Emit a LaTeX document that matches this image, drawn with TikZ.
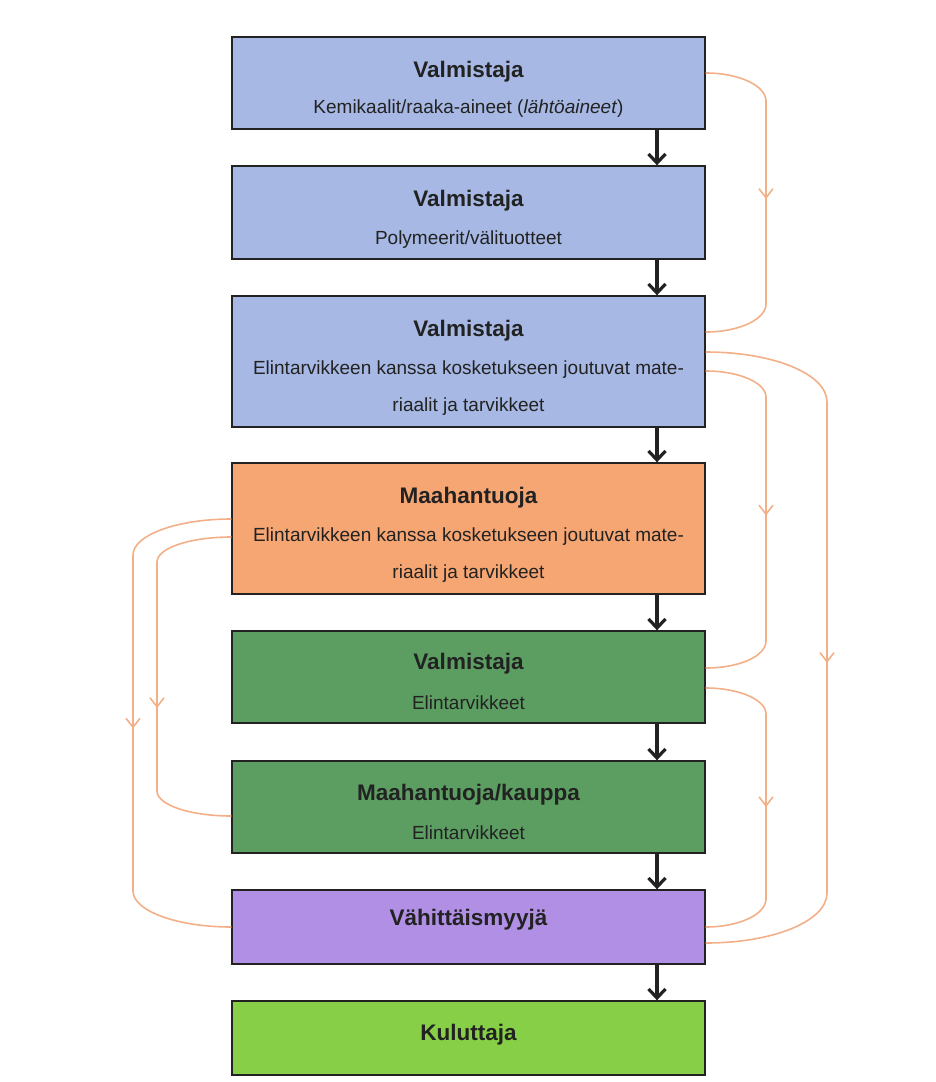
\documentclass[tikz,border=0pt]{standalone}
\usepackage{fontspec}
\setmainfont{Liberation Sans}
\usetikzlibrary{arrows.meta,decorations.markings}
\definecolor{valmblue}{RGB}{166,184,227}
\definecolor{tuojaorange}{RGB}{246,166,115}
\definecolor{elintgreen}{RGB}{92,158,98}
\definecolor{myyjapurple}{RGB}{176,143,229}
\definecolor{kulugreen}{RGB}{134,207,71}
\definecolor{feedline}{RGB}{243,176,136}
\definecolor{ink}{RGB}{34,34,34}

\begin{document}
\begin{tikzpicture}[x=1pt,y=-1pt,
  box/.style 2 args={draw=ink,line width=1.4pt,fill=#1,minimum width=473pt,minimum height=#2,inner sep=0pt},
  head/.style={font=\fontsize{22.5}{27}\selectfont\bfseries,text=ink},
  sub/.style={font=\fontsize{19}{37}\selectfont,text=ink,align=center},
  flow/.style={draw=ink,line width=3.2pt,-{Straight Barb[length=9pt,width=17pt]}},
  feed/.style={draw=feedline,line width=1.6pt,postaction={decorate},
    decoration={markings,mark=at position #1 with {\arrow{Straight Barb[length=9pt,width=14pt]}}}}]
\useasboundingbox (0,0) rectangle (935,1082);

\node (valm1) [box={valmblue}{92pt}] at (468.5,83) {};
\node (valm2) [box={valmblue}{93pt}] at (468.5,212.5) {};
\node (valm3) [box={valmblue}{131pt}] at (468.5,361.5) {};
\node (tuoja) [box={tuojaorange}{131pt}] at (468.5,528.5) {};
\node (elint) [box={elintgreen}{92pt}] at (468.5,677) {};
\node (kauppa) [box={elintgreen}{92pt}] at (468.5,807) {};
\node (myyja) [box={myyjapurple}{74pt}] at (468.5,927) {};
\node (kulu) [box={kulugreen}{74pt}] at (468.5,1038) {};

\node (valm1-h) [head] at (468.5,72) {Valmistaja};
\node (valm1-s) [sub] at (468.5,109) {Kemikaalit/raaka-aineet (\textit{lähtöaineet})};
\node (valm2-h) [head] at (468.5,201) {Valmistaja};
\node (valm2-s) [sub] at (468.5,240) {Polymeerit/välituotteet};
\node (valm3-h) [head] at (468.5,331) {Valmistaja};
\node (valm3-s) [sub] at (468.5,388) {Elintarvikkeen kanssa kosketukseen joutuvat mate-\\riaalit ja tarvikkeet};
\node (tuoja-h) [head] at (468.5,498) {Maahantuoja};
\node (tuoja-s) [sub] at (468.5,555.5) {Elintarvikkeen kanssa kosketukseen joutuvat mate-\\riaalit ja tarvikkeet};
\node (elint-h) [head] at (468.5,664) {Valmistaja};
\node (elint-s) [sub] at (468.5,703) {Elintarvikkeet};
\node (kauppa-h) [head] at (468.5,795) {Maahantuoja/kauppa};
\node (kauppa-s) [sub] at (468.5,833) {Elintarvikkeet};
\node (myyja-h) [head] at (468.5,920) {Vähittäismyyjä};
\node (kulu-h) [head] at (468.5,1035) {Kuluttaja};

\draw[flow] ([xshift=188.5pt]valm1.south) -- ([xshift=188.5pt]valm2.north);
\draw[flow] ([xshift=188.5pt]valm2.south) -- ([xshift=188.5pt]valm3.north);
\draw[flow] ([xshift=188.5pt]valm3.south) -- ([xshift=188.5pt]tuoja.north);
\draw[flow] ([xshift=188.5pt]tuoja.south) -- ([xshift=188.5pt]elint.north);
\draw[flow] ([xshift=188.5pt]elint.south) -- ([xshift=188.5pt]kauppa.north);
\draw[flow] ([xshift=188.5pt]kauppa.south) -- ([xshift=188.5pt]myyja.north);
\draw[flow] ([xshift=188.5pt]myyja.south) -- ([xshift=188.5pt]kulu.north);

\draw[feed=0.49] ([yshift=10pt]valm1.east) .. controls +(34,0) and +(0,-15) .. (766,101) -- (766,304) .. controls +(0,15) and +(34,0) .. ([yshift=29.5pt]valm3.east);
\draw[feed=0.52] ([yshift=9.5pt]valm3.east) .. controls +(68,0) and +(0,-28) .. (827,402) -- (827,893) .. controls +(0,28) and +(68,0) .. ([yshift=-16pt]myyja.east);
\draw[feed=0.49] ([yshift=-9.5pt]valm3.east) .. controls +(34,0) and +(0,-14) .. (766,397) -- (766,641) .. controls +(0,15) and +(34,0) .. ([yshift=9pt]elint.east);
\draw[feed=0.50] ([yshift=-11pt]elint.east) .. controls +(34,0) and +(0,-14) .. (766,714) -- (766,899) .. controls +(0,15) and +(34,0) .. (myyja.east);
\draw[feed=0.51] ([yshift=9.5pt]tuoja.west) .. controls +(-54,0) and +(0,-20) .. (133,555) -- (133,891) .. controls +(0,20) and +(-54,0) .. (myyja.west);
\draw[feed=0.58] ([yshift=-8.5pt]tuoja.west) .. controls +(-41,0) and +(0,-14) .. (157,562) -- (157,791) .. controls +(0,14) and +(-41,0) .. ([yshift=-9pt]kauppa.west);
\end{tikzpicture}
\end{document}
